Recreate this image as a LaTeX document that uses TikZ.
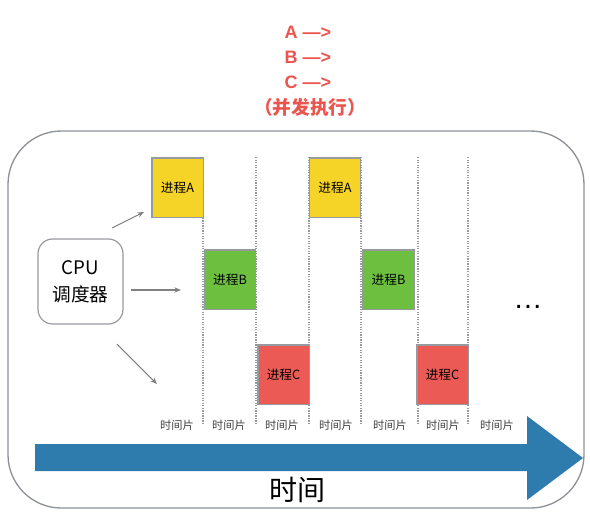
\documentclass[tikz,border=0pt]{standalone}
\usepackage{fontspec}
\setmainfont{Noto Sans CJK SC}
\newfontfamily\latinfont{Liberation Sans}
\usetikzlibrary{arrows.meta}
\definecolor{pyellow}{RGB}{246,212,39}
\definecolor{pgreen}{RGB}{108,191,63}
\definecolor{pred}{RGB}{236,90,85}
\definecolor{tred}{RGB}{236,84,78}
\definecolor{tblue}{RGB}{46,123,173}
\definecolor{edgegray}{RGB}{150,153,158}
\definecolor{framegray}{RGB}{142,147,153}
\definecolor{arrgray}{RGB}{128,128,128}
\tikzset{
  procbox/.style={draw=edgegray, line width=1.1pt, minimum width=38.6pt, minimum height=44.6pt, inner sep=0pt, font=\fontsize{9.5}{11}\selectfont, text=black},
  slice/.style={font=\fontsize{8.4}{10}\selectfont, text=black!75, inner sep=0pt},
  toptext/.style={font=\latinfont\bfseries\fontsize{13.5}{16}\selectfont, text=tred, inner sep=0pt, anchor=base},
  grid/.style={densely dotted, draw=edgegray, line width=0.9pt},
  cpuarrow/.style={draw=arrgray, line width=0.8pt, -{Stealth[length=5pt,width=4pt]}}
}
\begin{document}
\begin{tikzpicture}[x=0.75pt,y=-0.75pt]
\useasboundingbox (0,0) rectangle (590,512);
% title
\node[toptext] (la) at (308,38) {A —>};
\node[toptext] (lb) at (308,63.5) {B —>};
\node[toptext] (lc) at (308,88.3) {C —>};
\node[font=\bfseries\fontsize{14}{16}\selectfont, text=tred, inner sep=0pt] (lp) at (310,107.5) {（并发执行）};
% frame
\draw[framegray, line width=1pt, rounded corners=40pt] (8,131) rectangle (584,508);
% dotted grid
\foreach \gx in {203,256,309,361,418,468}
  \draw[grid] (\gx,157) -- (\gx,425);
% process boxes
\node[procbox, fill=pyellow] (a1) at (177.5,187.5) {进程A};
\node[procbox, fill=pgreen] (b1) at (230,279.5) {进程B};
\node[procbox, fill=pred] (c1) at (283.5,374.5) {进程C};
\node[procbox, fill=pyellow] (a2) at (335,187.5) {进程A};
\node[procbox, fill=pgreen] (b2) at (388.5,279.5) {进程B};
\node[procbox, fill=pred] (c2) at (442.5,374.5) {进程C};
% cpu
\node[draw=edgegray, line width=0.9pt, rounded corners=11pt, minimum width=63.75pt, minimum height=63.75pt, align=center, font=\fontsize{14}{20}\selectfont, inner sep=0pt] (cpu) at (80.5,281.5) {CPU\\调度器};
\coordinate (s1) at (112,228); \coordinate (e1) at (144,212);
\coordinate (s2) at (131,290); \coordinate (e2) at (181,290);
\coordinate (s3) at (117,344); \coordinate (e3) at (157,384);
\draw[cpuarrow] (s1) -- (e1);
\draw[cpuarrow] (s2) -- (e2);
\draw[cpuarrow] (s3) -- (e3);
% ellipsis
\node[font=\latinfont\fontsize{22}{22}\selectfont, anchor=base, inner sep=0pt] (dots) at (528,308.5) {…};
% time slices
\foreach \sx/\nm in {177/t1,229/t2,282/t3,336/t4,390/t5,443/t6,497/t7}
  \node[slice] (\nm) at (\sx,425) {时间片};
% big arrow
\fill[tblue] (35,444) -- (527,444) -- (527,416) -- (583,458) -- (527,500) -- (527,471) -- (35,471) -- cycle;
\node[font=\fontsize{21}{24}\selectfont, inner sep=0pt] (time) at (297,489.5) {时间};
\end{tikzpicture}
\end{document}
